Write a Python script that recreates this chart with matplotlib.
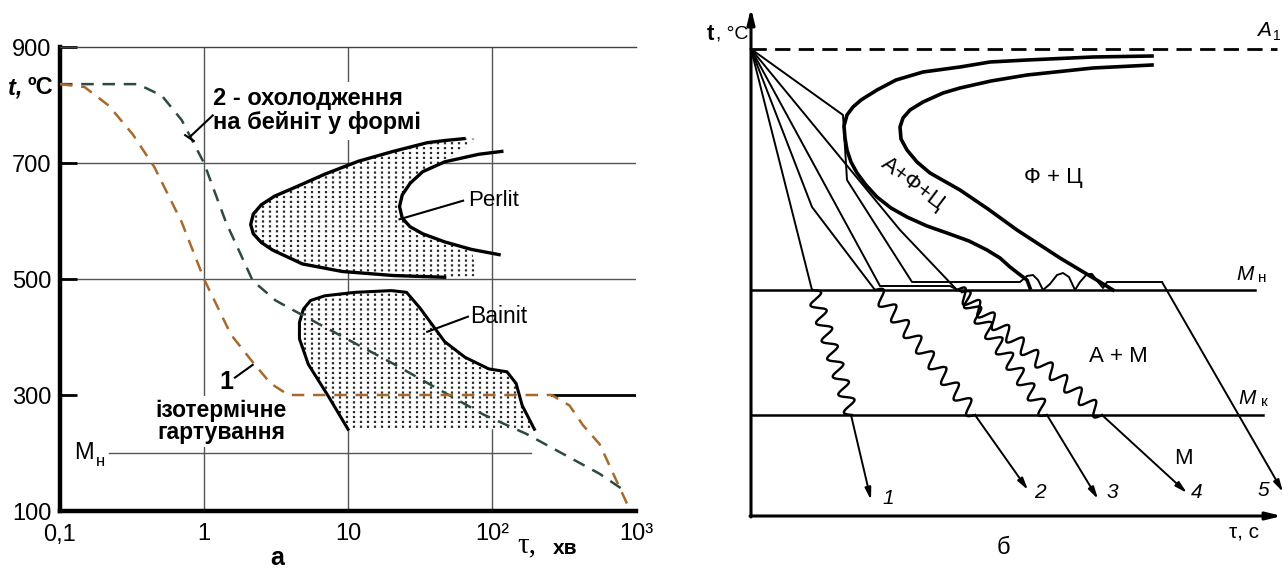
import numpy as np
import matplotlib
matplotlib.use("Agg")
import matplotlib.pyplot as plt
from matplotlib.patches import Polygon

plt.rcParams['font.family'] = ['Liberation Sans', 'DejaVu Sans']

W, H = 1288, 569

# ---------- panel а : time, min / temperature, C ----------
# 1 - isothermal quenching
t_iso = [0.1, 0.148, 0.218, 0.321, 0.452, 0.70, 1.0, 1.54, 2.11, 2.9, 3.86, 259, 345, 428, 560, 876]
T_iso = [836, 831, 799, 749, 693, 598, 500, 404, 361, 320, 300, 300, 282, 248, 215, 110]
# 2 - cooling to bainite in the mould
t_cool = [0.1, 0.347, 0.51, 0.70, 1.0, 1.42, 2.18, 3.14, 5.05, 20.6, 87.7, 173, 560, 834]
T_cool = [836, 836, 816, 774, 700, 598, 497, 463, 435, 354, 266, 233, 164, 135]
# pearlite C-curve: start and end
t_perl_s = [64, 48, 35.5, 20.6, 11.8, 6.94, 4.11, 3.1, 2.5, 2.2, 2.11, 2.2, 2.5, 2.99,
            4.82, 9.1, 20.6, 46.9]
T_perl_s = [742, 739, 735, 720, 703, 681, 656, 643, 628, 612, 594, 578, 563, 550,
            526, 513, 506, 503]
t_perl_e = [117, 80.7, 46.9, 33, 27, 23.8, 22.8, 23.8, 27, 33, 46.9, 72, 112]
T_perl_e = [720, 715, 702, 685, 665, 645, 625, 605, 590, 578, 564, 551, 542]
# bainite region outline
t_bain = [10, 7.3, 5.3, 4.6, 4.6, 4.9, 5.5, 6.9, 11.2, 20, 25.5, 31.6, 46.9, 65, 95, 127,
          147, 162, 197]
T_bain = [241, 298, 353, 397, 425, 448, 463, 471, 477, 480, 477, 450, 392, 365, 345, 340,
          320, 282, 241]

x_ticks = [0.1, 1, 10, 100, 1000]
x_labels = ['0,1', '1', '10', '10²', '10³']
y_ticks = [100, 300, 500, 700, 900]
T_Mn = 200

# ---------- panel б : schematic units ----------
A1, Mn, Mk = 467, 226, 101
origin = (0, 467)
line1 = [origin, (61, 226)]
line2 = [origin, (61, 309), (124, 226)]
line3 = [origin, (129, 230), (199, 230), (211, 224)]
line4 = [origin, (149, 286), (206, 226)]
line5 = [origin, (92, 401), (96, 336), (161, 234), (269, 234), (276, 240), (282, 241),
         (287, 236), (292, 226), (299, 232), (306, 241), (312, 243), (318, 239), (324, 226),
         (329, 234), (336, 242), (341, 242), (347, 234), (352, 228), (356, 234), (411, 234)]
waves = [((62, 226), (101, 101)), ((124, 226), (224, 101)),
         ((211, 224), (296, 101)), ((206, 226), (351, 101))]
arrows = [((100, 101), (120, 16)), ((224, 101), (277, 26)), ((296, 101), (347, 17)),
          ((351, 101), (436, 23)), ((411, 234), (532, 24))]
num_pos = [(137, 18), (289, 24), (361, 24), (446, 24), (512, 26)]
c_outer = [(401, 460), (342, 459), (276, 456), (239, 454), (209, 449), (172, 444), (145, 436),
           (126, 426), (110, 416), (102, 409), (96, 401), (93, 390), (94, 378), (96, 366),
           (100, 354), (106, 343), (115, 331), (126, 319), (140, 308), (156, 299), (176, 290),
           (196, 283), (218, 275), (236, 266), (249, 258), (259, 249), (268, 242), (276, 236),
           (279, 228)]
c_inner = [(401, 451), (342, 448), (276, 441), (240, 435), (209, 428), (192, 423), (172, 414),
           (159, 406), (152, 398), (149, 389), (150, 377), (156, 366), (166, 354), (179, 343),
           (209, 326), (237, 307), (266, 286), (309, 258), (349, 234), (362, 226)]


def wavy(p0, p1, pitch=19.0, amp=7.0):
    p0 = np.asarray(p0, float)
    p1 = np.asarray(p1, float)
    d = p1 - p0
    L = np.hypot(*d)
    n = max(1, round(L / pitch))
    s = np.linspace(0, 1, 40 * n)
    nrm = np.array([-d[1], d[0]]) / L
    return p0 + np.outer(s, d) + np.outer(amp * np.sin(2 * np.pi * n * s), nrm)


def dots(ax, patch, step_px=7):
    xs = np.arange(0, 1, step_px / (ax.bbox.width))
    coll = ax.vlines(xs, 0, 1, transform=ax.transAxes, colors='#2a2a2a',
                     linestyles=(0, (1.0, 1.2)), lw=1.6, zorder=3)
    coll.set_clip_path(patch)


fig = plt.figure(figsize=(W / 100, H / 100), dpi=100)

# ================= panel а =================
ax = fig.add_axes([60 / W, 1 - 511 / H, (636 - 60) / W, (511 - 47) / H])
ax.set_xscale('log')
ax.set_xlim(0.1, 1000)
ax.set_ylim(100, 900)
ax.set_xticks(x_ticks)
ax.set_xticklabels(x_labels)
ax.minorticks_off()
ax.set_yticks(y_ticks)
ax.tick_params(axis='x', length=0, pad=9, labelsize=17)
ax.tick_params(axis='y', direction='in', length=12, width=2, pad=6, labelsize=17)
for s in ['left', 'bottom']:
    ax.spines[s].set_linewidth(3.2)
ax.spines['top'].set_linewidth(1)
ax.spines['top'].set_color('#444444')
ax.spines['right'].set_visible(False)

for v in [1, 10, 100]:
    ax.axvline(v, color='#555555', lw=1, zorder=1)
for h in [500, 700]:
    ax.axhline(h, color='#555555', lw=1, zorder=1)
ax.plot([0.218, 188], [T_Mn, T_Mn], color='#555555', lw=1, zorder=1)

# pearlite region
outer = np.column_stack([t_perl_s, T_perl_s])
inner = np.column_stack([t_perl_e, T_perl_e])
inner_in = inner[::-1][inner[::-1, 0] <= 79]
perl_poly = np.vstack([outer, [[79, 505]], inner_in, [[79, 742]]])
pp = Polygon(perl_poly, closed=True, facecolor='white', edgecolor='none', zorder=2)
ax.add_patch(pp)
dots(ax, pp)
ax.plot(t_perl_s, T_perl_s, color='black', lw=2.4, zorder=4, solid_joinstyle='round')
ax.plot(t_perl_e, T_perl_e, color='black', lw=2.4, zorder=4, solid_joinstyle='round')

# bainite region
bp = Polygon(np.column_stack([t_bain, T_bain]), closed=True, facecolor='white',
             edgecolor='none', zorder=2)
ax.add_patch(bp)
dots(ax, bp)
ax.plot(t_bain, T_bain, color='black', lw=2.2, zorder=4, solid_joinstyle='round')

# cooling curves
ax.plot(t_cool, T_cool, color='#2c4a40', lw=1.8, ls=(0, (5, 3.5)), zorder=5)
ax.plot(t_iso, T_iso, color='#a86a2c', lw=1.8, ls=(0, (5, 3.5)), zorder=5)
ax.plot([262, 1000], [300, 300], color='black', lw=2, zorder=4)

# annotations
box = dict(facecolor='white', edgecolor='none', pad=4)
ax.text(1.15, 790, '2 - охолодження\nна бейніт у формі', fontsize=17, fontweight='bold',
        ha='left', va='center', linespacing=1.05, bbox=box, zorder=6)
ax.plot([0.79, 1.15], [744, 782], color='black', lw=1.5, zorder=6)
ax.plot([0.74, 0.85], [748, 738], color='black', lw=1.5, zorder=6)
ax.text(1.42, 322, '1', fontsize=18, fontweight='bold', ha='center', va='center', zorder=7)
ax.text(1.31, 254, 'ізотермічне\nгартування', fontsize=16.5, fontweight='bold',
        ha='center', va='center', linespacing=0.95,
        bbox=dict(facecolor='white', edgecolor='none', pad=2), zorder=6)
ax.plot([1.64, 2.18], [330, 352], color='black', lw=1.5, zorder=6)
ax.plot([22.8, 63], [603, 635], color='black', lw=1.5, zorder=6)
ax.text(68, 635, 'Perlit', fontsize=16, ha='left', va='center', zorder=6)
ax.plot([35.5, 68], [409, 435], color='black', lw=1.5, zorder=6)
ax.text(70, 435, 'Bainit', fontsize=16.5, ha='left', va='center', zorder=6)
ax.text(0.126, T_Mn, 'M', fontsize=17, ha='left', va='center', zorder=6)
ax.text(0.178, T_Mn - 14, 'н', fontsize=12, ha='left', va='center', zorder=6)

fig.text(8 / W, 1 - 88 / H, 't,', fontsize=17, style='italic', fontweight='bold',
         ha='left', va='center')
fig.text(28 / W, 1 - 88 / H, 'ºC', fontsize=17, fontweight='bold', ha='left', va='center')
fig.text(517 / W, 1 - 545 / H, 'τ,', fontsize=21, family='Liberation Serif', ha='left',
         va='center')
fig.text(553 / W, 1 - 549 / H, 'хв', fontsize=15, fontweight='bold', ha='left', va='center')
fig.text(277 / W, 1 - 558 / H, 'а', fontsize=18, fontweight='bold', ha='center', va='center')

# ================= panel б =================
bx = fig.add_axes([700 / W, 0, 588 / W, 1])
bx.set_xlim(-51, 537)
bx.set_ylim(-53, 516)
bx.axis('off')

axis_arrow = dict(arrowstyle='-|>,head_width=0.22,head_length=0.9', lw=2.2, color='black',
                  shrinkA=0, shrinkB=0)
bx.annotate('', xy=(0, 508), xytext=(0, -1), arrowprops=axis_arrow)
bx.annotate('', xy=(531, 0), xytext=(-1, 0), arrowprops=axis_arrow)
bx.plot([0, 526], [A1, A1], color='black', lw=2, ls=(0, (5.5, 3)))
bx.plot([0, 504], [Mn, Mn], color='black', lw=1.8)
bx.plot([0, 512], [Mk, Mk], color='black', lw=1.8)

bx.plot(*np.array(c_outer).T, color='black', lw=2.6, solid_joinstyle='round')
bx.plot(*np.array(c_inner).T, color='black', lw=2.6, solid_joinstyle='round')

for ln in [line1, line2, line3, line4, line5]:
    bx.plot(*np.array(ln).T, color='black', lw=1.4, solid_joinstyle='round')
for p0, p1 in waves:
    bx.plot(*wavy(p0, p1).T, color='black', lw=1.7)
cool_arrow = dict(arrowstyle='-|>,head_width=0.18,head_length=0.7', lw=1.4, color='black',
                  shrinkA=0, shrinkB=0)
for p0, p1 in arrows:
    bx.annotate('', xy=p1, xytext=p0, arrowprops=cool_arrow)
for i, (x, y) in enumerate(num_pos):
    bx.text(x, y, str(i + 1), fontsize=15, style='italic', ha='center', va='center')

bx.text(-44, 482, 't', fontsize=16, fontweight='bold', ha='left', va='center')
bx.text(-35, 482, ', °C', fontsize=14, ha='left', va='center')
bx.text(513, 485, 'A', fontsize=15, style='italic', ha='center', va='center')
bx.text(526, 480, '1', fontsize=10, ha='center', va='center')
bx.text(494, 242, 'M', fontsize=15, style='italic', ha='center', va='center')
bx.text(511, 238, 'н', fontsize=11, ha='center', va='center')
bx.text(496, 118, 'M', fontsize=15, style='italic', ha='center', va='center')
bx.text(513, 114, 'к', fontsize=11, ha='center', va='center')
bx.text(432, 58, 'М', fontsize=16, ha='center', va='center')
bx.text(367, 159, 'А + М', fontsize=16, ha='center', va='center')
bx.text(302, 339, 'Ф + Ц', fontsize=16, ha='center', va='center')
bx.text(162, 332, 'А+Ф+Ц', fontsize=16, ha='center', va='center', rotation=-37)
bx.text(493, -16, 'τ, с', fontsize=15, ha='center', va='center')
bx.text(252, -32, 'б', fontsize=17, ha='center', va='center')

fig.savefig('out.png', dpi=100, facecolor='white')
